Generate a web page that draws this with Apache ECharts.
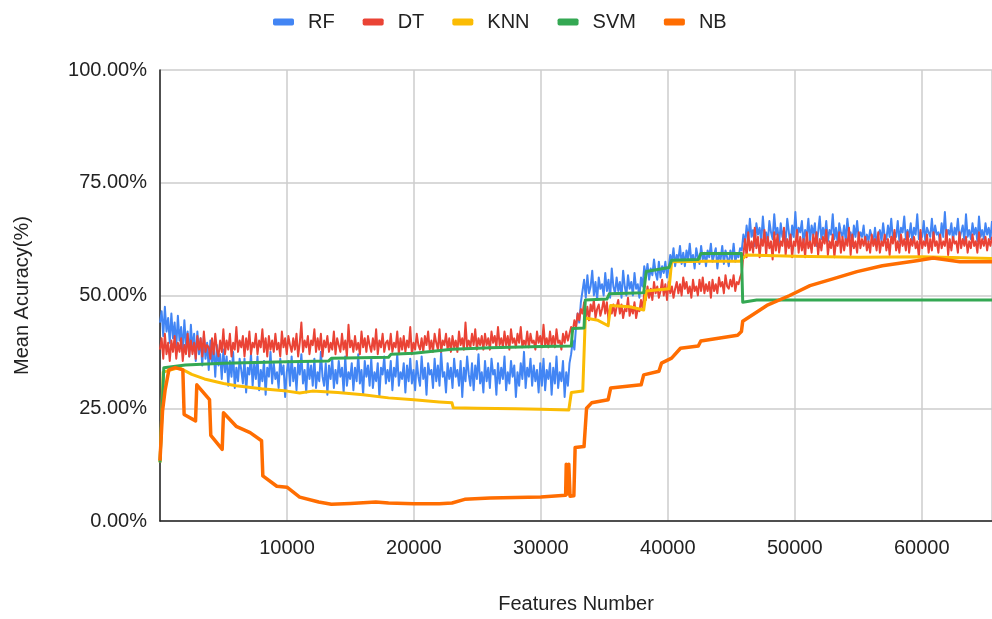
<!DOCTYPE html>
<html>
<head>
<meta charset="utf-8">
<title>Mean Accuracy by Number of Features</title>
<script src="https://cdn.jsdelivr.net/npm/echarts@6/dist/echarts.min.js"></script>
<style>
  html, body { margin: 0; padding: 0; background: #fff; }
  #chart { width: 992px; height: 619px; }
</style>
</head>
<body>
<div id="chart"></div>
<script>
// Feature counts for the noisy RF / DT runs: one sample every 128 features, 0 .. 65536
const FEATURE_STEP = 128;
const FEATURE_MAX = 65536;

// Random Forest mean accuracy (%), one value per sample
const rfAccuracy = [
  44, 46.5, 41, 47.5, 42, 45, 39.5, 46, 40.5, 44,
  38.5, 45.5, 40, 43, 37.5, 44.5, 39, 42, 36.5, 43.5,
  38, 41.5, 35.5, 42, 37, 40.5, 34.5, 41, 36, 39.5,
  33.5, 40, 35, 38.5, 32, 39, 34.5, 37, 31.5, 38,
  33, 36.5, 30, 35.5, 32, 37.5, 29.5, 34, 31, 36,
  33.5, 30.5, 36, 28.5, 34, 32.5, 37, 30, 35, 31.5,
  36.5, 29, 33.5, 31, 35.5, 28, 34, 32, 37.5, 30.5,
  35, 31.5, 33, 29.5, 36, 32.5, 34.5, 27.5, 33, 35.5,
  30, 36.5, 31, 34, 29, 35, 32.5, 37, 30.5, 33.5,
  28.5, 35.5, 31.5, 34.5, 30, 36, 29.5, 33, 31, 37.5,
  32, 30, 35, 28, 34.5, 31.5, 36, 29.5, 33.5, 30.5,
  35.5, 32, 34, 28.5, 36.5, 30, 33, 31.5, 35, 29,
  34, 31, 37, 30.5, 33.5, 28, 35.5, 32, 34.5, 30,
  36, 29.5, 33, 31, 35, 27.5, 34, 32.5, 36.5, 30.5,
  33.5, 31, 35.5, 29, 34, 32, 37, 30, 33, 31.5,
  35, 28.5, 34.5, 31, 36, 30.5, 33.5, 29, 35.5, 32,
  30, 36.5, 31.5, 34, 28, 35, 32.5, 33.5, 29.5, 36,
  31, 34.5, 30, 37.5, 32, 33, 28.5, 35, 31.5, 34,
  29.5, 36, 32, 33.5, 30, 35.5, 27.5, 34, 31, 36.5,
  32.5, 30, 35, 29, 34.5, 31.5, 37, 30.5, 33, 28.5,
  35.5, 31, 34, 29.5, 36, 32.5, 33.5, 28, 35, 30.5,
  34, 31.5, 36.5, 29, 33, 30.5, 35.5, 32, 34.5, 27.5,
  33, 30, 35, 31.5, 37.5, 29.5, 34, 32, 36, 30,
  34.5, 31, 33.5, 28.5, 35, 30, 36, 29, 33.5, 31.5,
  35, 28, 34, 30.5, 36.5, 29.5, 33, 31, 35.5, 27.5,
  33, 30, 35, 37, 40, 38, 43, 46, 44, 48.5,
  51, 53.5, 49.5, 54.5, 50.5, 52, 55.5, 50, 53, 49,
  54, 51.5, 52.5, 50, 55, 51, 53.5, 49.5, 56, 52,
  50.5, 54, 51, 53, 49.5, 55.5, 52, 50, 54.5, 51.5,
  53, 50, 55, 51.5, 52.5, 49.5, 54, 52, 56.5, 54,
  57, 53.5, 56, 54.5, 58, 55, 53.5, 57.5, 54, 56.5,
  55, 57.5, 54, 56, 59, 57.5, 60.5, 56.5, 59, 58,
  61, 57, 59.5, 56.5, 60, 58, 61.5, 57.5, 59, 56,
  60.5, 58.5, 57, 61, 58, 59.5, 56.5, 60, 58.5, 61.5,
  57.5, 59, 60.5, 56, 59.5, 58, 61, 57, 60, 58.5,
  56.5, 60, 58, 61.5, 57.5, 59, 58.5, 60.5, 60, 63.5,
  61.5, 65.5, 62, 67, 63, 64.5, 61, 66, 63.5, 65,
  62, 67.5, 63, 64, 61.5, 66.5, 64, 62.5, 68, 63.5,
  65, 61.5, 66, 63, 64.5, 62, 67, 64, 61, 65.5,
  63, 68.5, 62.5, 65, 64, 66.5, 61.5, 64.5, 63, 67,
  62, 65.5, 63.5, 66, 61, 64, 67.5, 62.5, 65, 63,
  66.5, 62, 64.5, 63.5, 68, 62.5, 65, 61.5, 66, 64,
  63, 65.5, 62, 67, 63.5, 64, 61, 65.5, 63, 66.5,
  62.5, 64, 63, 65.5, 61.5, 63.5, 62, 64.5, 63, 62,
  65, 61.5, 63.5, 64.5, 62, 66, 63, 62.5, 65.5, 63,
  67, 62.5, 64, 63, 66.5, 62, 65, 64, 67.5, 62.5,
  64.5, 63, 66, 62, 65, 63.5, 68, 62.5, 64, 63,
  66.5, 62, 65, 64, 63, 67, 62.5, 65.5, 63.5, 64,
  62, 66, 63, 68.5, 62.5, 64.5, 63.5, 66, 62, 65,
  63.5, 67, 62.5, 64, 65.5, 62, 68, 63, 64.5, 62.5,
  66, 63.5, 65, 62, 67.5, 63, 64.5, 62.5, 66, 63.5,
  65, 62.5, 66.5
];

// Decision Tree mean accuracy (%), one value per sample
const dtAccuracy = [
  38, 40.5, 36, 41.5, 37, 39.5, 35.5, 40, 37.5, 41,
  36, 39.5, 37.5, 40.5, 35.5, 39, 37, 41.5, 36.5, 40,
  37, 39.5, 36, 41, 38, 40.5, 36.5, 42, 37.5, 39,
  38.5, 36, 40.5, 37, 41.5, 38, 36.5, 40, 37.5, 42.5,
  37, 40, 38, 41.5, 36.5, 39.5, 38, 43, 37.5, 40,
  38.5, 41, 36.5, 40.5, 38, 42, 37, 39.5, 38.5, 41.5,
  37, 40, 38.5, 42.5, 37.5, 40.5, 36.5, 41, 38, 40,
  37.5, 41.5, 38, 39.5, 36.5, 42, 38.5, 40.5, 37, 41,
  39, 37.5, 40.5, 38, 41.5, 36.5, 39.5, 44, 37.5, 40,
  38.5, 41, 37, 40, 39, 42.5, 37.5, 40.5, 38, 41.5,
  36.5, 40, 38.5, 41, 37.5, 39.5, 38, 42, 37, 40.5,
  39, 37.5, 41.5, 38, 40, 36.5, 43.5, 38.5, 40, 37.5,
  41, 38, 39.5, 37, 42, 38.5, 40.5, 37.5, 41, 39,
  37.5, 40.5, 38, 42.5, 37, 40, 38.5, 41.5, 37.5, 39.5,
  40, 38, 41.5, 37.5, 39.5, 38.5, 42, 37, 40.5, 38,
  41, 37.5, 40, 38.5, 43, 37, 39.5, 38, 41.5, 39,
  38, 40.5, 37.5, 41, 39, 42, 38, 40, 37.5, 41.5,
  39.5, 38, 42.5, 37.5, 40, 39, 41.5, 38, 40.5, 37.5,
  41, 38.5, 40, 37.5, 42, 39, 40.5, 38, 44, 38.5,
  40, 38.5, 41.5, 39, 42.5, 38, 40.5, 39, 41, 38,
  41.5, 39, 40.5, 38, 42, 39.5, 41, 38.5, 43, 39,
  40.5, 38.5, 42, 39, 41, 38, 42.5, 39.5, 40.5, 38.5,
  41.5, 39.5, 43, 38.5, 40, 39, 42, 38.5, 41.5, 39.5,
  40, 38, 42, 39.5, 41, 38.5, 43.5, 39, 40.5, 38.5,
  42, 39, 41, 38.5, 42.5, 39.5, 40, 38, 41.5, 39.5,
  42, 40, 41.5, 43, 42, 44.5, 43, 46, 44.5, 47,
  46, 48.5, 45, 47.5, 44.5, 48, 46.5, 49, 45, 47,
  48, 45.5, 47, 49, 46, 48.5, 44.5, 47.5, 46, 48,
  45.5, 47.5, 49, 46, 48, 45, 47, 46.5, 49.5, 45.5,
  47.5, 46, 48.5, 45, 47, 46.5, 49, 47, 50.5, 49,
  52, 49.5, 51.5, 49, 53, 50.5, 52, 49.5, 51, 53.5,
  50, 52.5, 49, 53, 50.5, 52, 49.5, 51.5, 53, 50.5,
  52.5, 50, 54, 51.5, 53, 50.5, 52, 49.5, 53.5, 51,
  52, 50, 53.5, 51, 54, 50.5, 52.5, 51, 53, 49.5,
  53.5, 51, 52.5, 50.5, 54, 52, 53, 50.5, 54.5, 52,
  51.5, 53.5, 52, 54.5, 51, 53, 52.5, 54, 55, 59,
  62.5, 58.5, 64, 60, 62, 59.5, 65, 60.5, 63, 58.5,
  62.5, 61, 64.5, 59, 63, 60.5, 62, 58, 64, 60,
  63.5, 59.5, 62, 61, 65, 59, 62.5, 60.5, 63.5, 58.5,
  62, 61, 64.5, 59.5, 63, 60, 62.5, 58.5, 64, 60.5,
  62, 59.5, 63.5, 61, 64, 59, 62.5, 60, 63, 61.5,
  64.5, 59, 62, 60.5, 63.5, 58.5, 62, 61, 64, 59.5,
  63, 60, 62.5, 61, 65, 59, 63.5, 60.5, 62, 59.5,
  64, 60.5, 62.5, 61, 63, 60, 62, 59.5, 63.5, 61,
  62.5, 60, 64, 59.5, 62, 61, 63.5, 60, 62.5, 59,
  63, 61.5, 64.5, 60, 62, 59.5, 63.5, 61, 62.5, 60,
  64, 59.5, 62.5, 61, 63, 60.5, 62, 58.5, 64.5, 60.5,
  62, 61, 63.5, 59.5, 62.5, 60, 64, 61, 62, 59.5,
  63.5, 60.5, 62, 61, 64.5, 59, 62.5, 60, 63, 61.5,
  62, 59.5, 64, 60.5, 62.5, 61, 63, 59.5, 62, 60.5,
  63.5, 61, 62, 59.5, 64, 60.5, 62.5, 61, 63, 60,
  62.5, 61, 63
];

// K-Nearest Neighbours: [features, accuracy %]
const knnPoints = [
  [0, 13], [250, 33], [1500, 34], [2500, 32.5], [3500, 31.5], [5000, 30.5],
  [6000, 30], [8000, 29.3], [10000, 28.8], [11000, 28.4], [12000, 28.8],
  [14000, 28.5], [16000, 28], [18000, 27.3], [20000, 26.9], [22000, 26.4],
  [23000, 26.2], [23100, 25.1], [25000, 25], [28000, 24.9], [30000, 24.8],
  [32200, 24.6], [32400, 28.5], [33300, 28.8], [33500, 45], [34500, 44.5],
  [35300, 43.3], [35500, 47.8], [37000, 47.5], [38100, 46.8], [38300, 51],
  [40100, 51.5], [40300, 57.5], [43000, 57.6], [45700, 57.6], [46200, 59],
  [50000, 58.7], [55000, 58.5], [60000, 58.6], [65536, 58.2]
];

// Support Vector Machine: [features, accuracy %]
const svmPoints = [
  [0, 13], [300, 34], [2000, 34.6], [5000, 35], [10000, 35.3], [13300, 35.5],
  [13500, 36.1], [18000, 36.3], [18200, 37], [20000, 37.2], [23000, 38.1],
  [26000, 38.4], [30000, 38.7], [32400, 38.8], [32500, 42.7], [33400, 42.8],
  [33500, 49], [35200, 49.2], [35400, 50.4], [38100, 50.6], [38300, 55.3],
  [40100, 56.2], [40300, 57.8], [42400, 58], [42600, 59.3], [45800, 59.3],
  [45900, 48.5], [47000, 49], [65536, 49]
];

// Naive Bayes: [features, accuracy %]
const nbPoints = [
  [0, 13.4], [200, 24.4], [400, 29], [700, 33.5], [1200, 34], [1800, 33.5],
  [1900, 23.6], [2800, 22.2], [2900, 30.2], [3900, 26.9], [4000, 19],
  [4900, 15.9], [5000, 24], [6000, 21], [7100, 19.6], [8000, 17.8],
  [8100, 10], [9200, 7.7], [10000, 7.5], [11000, 5.3], [12500, 4.2],
  [13500, 3.7], [15000, 3.9], [17000, 4.2], [18000, 4], [20000, 3.8],
  [22000, 3.8], [23000, 4], [24000, 4.8], [26000, 5.1], [28000, 5.2],
  [30000, 5.3], [31950, 5.7], [32000, 12.6], [32100, 6], [32200, 12.6],
  [32300, 5.5], [32600, 5.6], [32700, 16.3], [33400, 16.5], [33600, 25],
  [34000, 26.2], [35300, 26.9], [35500, 29.5], [37900, 30.2], [38100, 32.4],
  [39300, 33.2], [39500, 35], [40300, 36.1], [41000, 38.3], [42400, 38.8],
  [42600, 39.9], [45500, 41.2], [45800, 42], [45900, 44.3], [47800, 47.8],
  [49600, 50], [51200, 52.2], [53000, 53.7], [54900, 55.3], [56900, 56.6],
  [59600, 57.7], [60900, 58.3], [63000, 57.5], [65536, 57.5]
];

const seriesNames = ['RF', 'DT', 'KNN', 'SVM', 'NB'];
const seriesColors = ['#4285F4', '#EA4335', '#FBBC04', '#34A853', '#FF6D01'];
const yTicks = [0, 25, 50, 75, 100];

// pair sampled values with their feature counts
function withFeatures(values) {
  return values.map((v, i) => [i * FEATURE_STEP, v]);
}

const FONT = '"Liberation Sans", Arial, sans-serif';

function lineSeries(idx, data, width) {
  return {
    name: seriesNames[idx],
    type: 'line',
    data: data,
    showSymbol: false,
    symbol: 'none',
    lineStyle: { color: seriesColors[idx], width: width, join: 'round' },
    itemStyle: { color: seriesColors[idx] },
    emphasis: { disabled: true }
  };
}

const chart = echarts.init(document.getElementById('chart'), null, { renderer: 'canvas' });
chart.setOption({
  animation: false,
  backgroundColor: '#ffffff',
  textStyle: { fontFamily: FONT },
  legend: {
    data: seriesNames,
    top: 7,
    left: 268,
    itemWidth: 21,
    itemHeight: 7,
    itemGap: 28,
    icon: 'roundRect',
    textStyle: { fontFamily: FONT, fontSize: 20, color: '#222', padding: [0, 0, 0, 9] }
  },
  grid: { left: 160, right: 0, top: 70, bottom: 95, containLabel: false },
  xAxis: {
    type: 'value',
    min: 0,
    max: FEATURE_MAX,
    interval: 10000,
    name: 'Features Number',
    nameLocation: 'middle',
    nameGap: 73,
    nameTextStyle: { fontFamily: FONT, fontSize: 20, color: '#222' },
    axisLine: { show: true, lineStyle: { color: '#222', width: 1.5 } },
    axisTick: { show: false },
    axisLabel: {
      showMinLabel: false, showMaxLabel: false,
      margin: 17, fontFamily: FONT, fontSize: 20, color: '#222',
      formatter: v => String(v)
    },
    splitLine: { show: true, lineStyle: { color: '#cccccc', width: 1.5 } }
  },
  yAxis: {
    type: 'value',
    min: yTicks[0],
    max: yTicks[yTicks.length - 1],
    interval: 25,
    name: 'Mean Acuracy(%)',
    nameLocation: 'middle',
    nameGap: 128,
    nameTextStyle: { fontFamily: FONT, fontSize: 20, color: '#222' },
    axisLine: { show: true, lineStyle: { color: '#222', width: 1.5 } },
    axisTick: { show: false },
    axisLabel: {
      margin: 13, fontFamily: FONT, fontSize: 20, color: '#222',
      formatter: v => v.toFixed(2) + '%'
    },
    splitLine: { show: true, lineStyle: { color: '#cccccc', width: 1.5 } }
  },
  series: [
    lineSeries(0, withFeatures(rfAccuracy), 2),
    lineSeries(1, withFeatures(dtAccuracy), 2),
    lineSeries(2, knnPoints, 3),
    lineSeries(3, svmPoints, 3),
    lineSeries(4, nbPoints, 3.5)
  ]
});
</script>
</body>
</html>
